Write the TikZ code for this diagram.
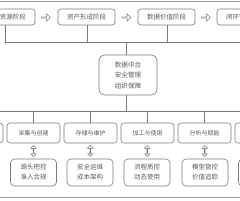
\documentclass[tikz,border=0pt]{standalone}
\usepackage{fontspec}
\newfontfamily\cjk{Noto Sans CJK SC}
\usetikzlibrary{shapes.arrows,calc}
\definecolor{linegray}{HTML}{7A7A7A}
\definecolor{framegray}{HTML}{9A9A9A}
\definecolor{textgray}{HTML}{5A5A5A}
\begin{document}
\begin{tikzpicture}[x=1pt,y=-1pt,
  box/.style={draw=linegray, line width=0.6pt, rounded corners=3pt, text=textgray,
    font=\cjk\fontsize{6.5}{10}\selectfont, inner sep=0pt, align=center},
  topbox/.style={box, minimum width=57pt, minimum height=16pt},
  midbox/.style={box, minimum width=53pt, minimum height=20pt, font=\cjk\fontsize{6}{10}\selectfont},
  lowbox/.style={box, minimum width=46pt, minimum height=27pt, rounded corners=4pt},
  centerbox/.style={box, minimum width=58pt, minimum height=40pt, rounded corners=6pt,
    font=\cjk\fontsize{6.6}{10.5}\selectfont},
  harrow/.style={single arrow, draw=linegray, line width=0.5pt, inner sep=0pt,
    minimum height=9pt, minimum width=7.5pt, single arrow head extend=1.5pt},
  varrow/.style={double arrow, draw=linegray, line width=0.5pt, inner sep=0pt,
    minimum height=11pt, minimum width=5.5pt, double arrow head extend=1.2pt,
    shape border rotate=90},
  link/.style={draw=linegray, line width=0.6pt}]
\useasboundingbox (0,0) rectangle (240,200);
\clip (0,0) rectangle (240,200);
% outer frame
\draw[framegray, line width=0.8pt] (-60,1.5) rectangle (300,197.5);
% top row
\node[topbox] (t1) at (6.5,17) {数据资源阶段};
\node[topbox] (t2) at (86.5,17) {资产形成阶段};
\node[topbox] (t3) at (166.5,17) {数据价值阶段};
\node[topbox] (t4) at (245.5,17) {闭环管理阶段};
\node[harrow] (a1) at (45.5,17.5) {};
\node[harrow] (a2) at (126,17.5) {};
\node[harrow] (a3) at (205.5,17.5) {};
% center
\node[centerbox] (c) at (128,75) {数据中台\\安全管理\\组织保障};
\coordinate (hj) at (126,42);
\coordinate (bj) at (126,111);
% middle row
\node[midbox] (b0) at (-23.5,133) {};
\node[midbox] (b1) at (33.5,133) {采集与创建};
\node[midbox] (b2) at (90.5,133) {存储与维护};
\node[midbox] (b3) at (147.5,133) {加工与使用};
\node[midbox] (b4) at (204.5,133) {分析与赋能};
\node[midbox] (b5) at (261.5,133) {};
% lower row
\node[lowbox] (l0) at (-23.5,172.5) {};
\node[lowbox] (l1) at (33.5,172.5) {源头把控\\准入合规};
\node[lowbox] (l2) at (90,172.5) {安全运维\\成本架构};
\node[lowbox] (l3) at (147,172.5) {流程质控\\动态使用};
\node[lowbox] (l4) at (205,172.5) {模型管控\\价值追踪};
\node[lowbox] (l5) at (261.5,172.5) {};
% vertical double arrows
\foreach \i in {1,2,3,4} {
  \node[varrow] (d\i) at ($(b\i.south)!0.5!(l\i.north)$) {};
}
% connectors top
\draw[link] ([xshift=-1.5pt]t1.south) -- ([xshift=-1.5pt]t1.south |- hj) -- (t4.south |- hj) -- (t4.south);
\draw[link] ([xshift=0.5pt]t2.south) -- ([xshift=0.5pt]t2.south |- hj);
\draw[link] ([xshift=0.5pt]t3.south) -- ([xshift=0.5pt]t3.south |- hj);
\draw[link] (hj) -- (hj |- c.north);
\draw[link] (hj |- c.south) -- (bj);
\draw[link] (b0.north |- bj) -- (b5.north |- bj);
\foreach \i in {0,...,5} {
  \draw[link] (b\i.north |- bj) -- (b\i.north);
}
\end{tikzpicture}
\end{document}
